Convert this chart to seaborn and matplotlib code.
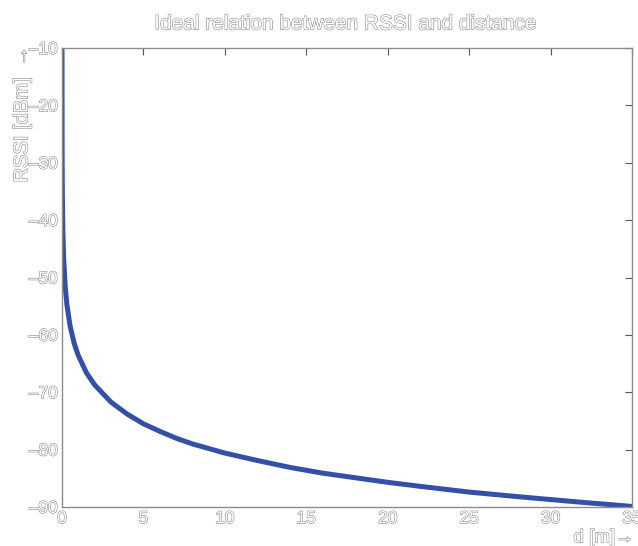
import matplotlib
matplotlib.use("Agg")
import matplotlib.pyplot as plt
import matplotlib.patheffects as pe
import seaborn as sns
import pandas as pd

# Distance [m] and received signal strength [dBm] along the ideal path-loss curve
distance_m = [0.0007, 0.002, 0.005, 0.01, 0.02, 0.05, 0.1, 0.2, 0.3, 0.5, 0.75,
              1.0, 1.5, 2.0, 3.0, 4.0, 5.0, 6.0, 7.0, 8.0, 9.0, 10.0, 12.0, 14.0,
              16.0, 18.0, 20.0, 22.0, 25.0, 28.0, 30.0, 32.0, 35.0]
rssi_dbm = [-10.0, -17.7, -24.5, -29.6, -34.7, -41.5, -46.6, -51.7, -54.7, -58.5,
            -61.5, -63.6, -66.6, -68.7, -71.7, -73.8, -75.5, -76.8, -78.0, -79.0,
            -79.8, -80.6, -81.9, -83.1, -84.1, -84.9, -85.7, -86.4, -87.4, -88.2,
            -88.7, -89.2, -89.9]

x_ticks = [0, 5, 10, 15, 20, 25, 30, 35]
y_ticks = [-90, -80, -70, -60, -50, -40, -30, -20, -10]

sns.set_style("white")
plt.rcParams["font.family"] = ["Liberation Sans", "DejaVu Sans"]

df = pd.DataFrame({"d": distance_m, "rssi": rssi_dbm})

fig = plt.figure(figsize=(6.38, 5.46), dpi=100)
ax = fig.add_axes([62 / 638, 1 - 507 / 546, 570 / 638, 459 / 546])

sns.lineplot(data=df, x="d", y="rssi", ax=ax, color="#3350a8", linewidth=3.6,
             estimator=None, sort=False)

ax.set_xlim(0, 35)
ax.set_ylim(-90, -10)
ax.set_xticks(x_ticks)
ax.set_yticks(y_ticks)
ax.set_xticklabels([str(t) for t in x_ticks])
ax.set_yticklabels([str(t).replace("-", "\u2013") for t in y_ticks])
ax.set_xlabel("")
ax.set_ylabel("")

for s in ax.spines.values():
    s.set_visible(True)
    s.set_color("#8c8c8c")
    s.set_linewidth(1.0)

ax.tick_params(direction="in", length=5, width=0.8, color="#555555",
               top=True, right=True, labelsize=12.5, pad=3)

hollow = [pe.Stroke(linewidth=0.8, foreground="#8a8a8a"), pe.Normal()]
for lab in ax.get_xticklabels() + ax.get_yticklabels():
    lab.set_color("white")
    lab.set_path_effects(hollow)

fig.text(346 / 638, 1 - 24 / 546, "Ideal relation between RSSI and distance",
         ha="center", va="center", fontsize=15, color="white", path_effects=hollow)
fig.text(22 / 638, 1 - 46 / 546, "RSSI [dBm]  \u2192", rotation=90,
         ha="center", va="top", fontsize=14.5, color="white", path_effects=hollow)
fig.text(634 / 638, 1 - 538 / 546, "d [m]\u2192",
         ha="right", va="center", fontsize=13.5, color="white", path_effects=hollow)

fig.savefig("out.png", dpi=100)
